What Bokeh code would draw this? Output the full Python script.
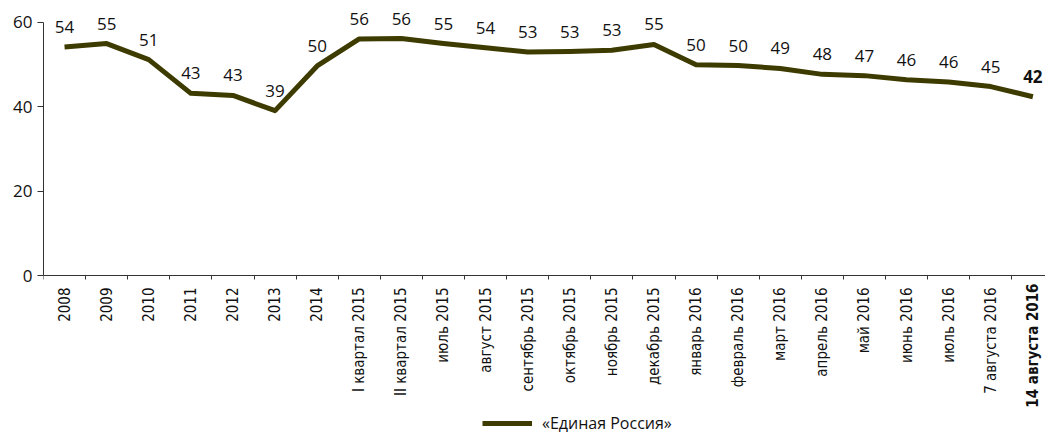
import math
from bokeh.plotting import figure
from bokeh.models import (Range1d, FixedTicker, ColumnDataSource, Legend, LegendItem, Label)
from bokeh.embed import file_html
from bokeh.resources import INLINE
from bokeh.core.properties import value

categories = ["2008", "2009", "2010", "2011", "2012", "2013", "2014",
              "I квартал 2015", "II квартал 2015", "июль 2015", "август 2015",
              "сентябрь 2015", "октябрь 2015", "ноябрь 2015", "декабрь 2015",
              "январь 2016", "февраль 2016", "март 2016", "апрель 2016",
              "май 2016", "июнь 2016", "июль 2016", "7 августа 2016", "14 августа 2016"]
values = [54.2, 55.0, 51.2, 43.2, 42.7, 39.1, 49.7, 56.1, 56.2, 55.0, 54.0,
          53.0, 53.1, 53.4, 54.8, 50.0, 49.8, 49.1, 47.7, 47.4, 46.4, 45.9, 44.8, 42.4]
labels = ["54", "55", "51", "43", "43", "39", "50", "56", "56", "55", "54",
          "53", "53", "53", "55", "50", "50", "49", "48", "47", "46", "46", "45", "42"]
series_name = "«Единая Россия»"
y_ticks = [0, 20, 40, 60]

FONT = "Open Sans"
XFONT = "DejaVu Sans Condensed"
LINE_COLOR = "#3d3b00"

n = len(categories)
xs = list(range(n))
styles = ["normal"] * (n - 1) + ["bold"]

PX = 4.2167  # pixels per y unit
p = figure(width=1045, height=435, output_backend="svg", toolbar_location=None,
           x_range=Range1d(-0.5, 23.3), y_range=Range1d(-160 / PX, 275 / PX),
           min_border_left=43, min_border_right=0, min_border_top=0, min_border_bottom=0)
p.outline_line_color = None
p.grid.visible = False
p.background_fill_color = "white"
p.border_fill_color = "white"

src = ColumnDataSource(dict(x=xs, y=values, t=labels, s=styles))
r = p.line("x", "y", source=src, line_color=LINE_COLOR, line_width=5, line_join="round")
p.text("x", "y", text="t", source=src, text_align="center", text_baseline="alphabetic",
       y_offset=-20, text_font=value(FONT), text_font_size="17px",
       text_font_style="s", text_color="#111111")

# y axis
ya = p.yaxis[0]
ya.ticker = FixedTicker(ticks=y_ticks)
ya.bounds = (0, 60)
ya.axis_line_color = "#333333"
ya.major_tick_line_color = "#333333"
ya.major_tick_out = 6
ya.major_tick_in = 0
ya.minor_tick_line_color = None
ya.major_label_standoff = 5
ya.major_label_text_font = FONT
ya.major_label_text_font_size = "17px"
ya.major_label_text_color = "#111111"

# x axis, drawn at y = 0
xa = p.xaxis[0]
xa.fixed_location = 0
xa.ticker = FixedTicker(ticks=xs, minor_ticks=[i - 0.5 for i in range(n)])
xa.major_label_overrides = {i: (categories[i] if i < n - 1 else "") for i in xs}
xa.major_label_orientation = math.pi / 2
xa.axis_line_color = "#333333"
xa.major_tick_line_color = None
xa.major_tick_out = 0
xa.major_tick_in = 0
xa.minor_tick_line_color = "#333333"
xa.minor_tick_out = 4
xa.minor_tick_in = 0
xa.major_label_standoff = 8
xa.major_label_text_font = XFONT
xa.major_label_text_font_size = "15px"
xa.major_label_text_color = "#111111"

# bold last category label
last = Label(x=n - 1, y=-8 / PX, x_units="data", y_units="data", text=categories[-1],
             angle=math.pi / 2, text_align="right", text_baseline="middle",
             text_font=XFONT, text_font_size="15px", text_font_style="bold",
             text_color="#111111")
p.add_layout(last)

legend = Legend(items=[LegendItem(label=series_name, renderers=[r])],
                location=(439, 1), orientation="horizontal",
                glyph_width=50, glyph_height=20, label_standoff=10,
                padding=0, margin=0, border_line_color=None, background_fill_alpha=0,
                label_text_font=FONT, label_text_font_size="16px", label_text_color="#111111")
p.add_layout(legend, "center")

open("out.html", "w").write(file_html(p, INLINE))
